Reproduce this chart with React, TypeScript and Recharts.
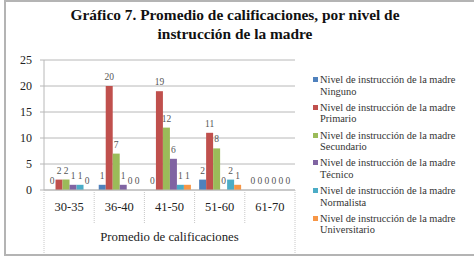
import React from 'react';
import { BarChart, Bar, XAxis, YAxis, CartesianGrid, LabelList, Rectangle } from 'recharts';

const categories = ['30-35', '36-40', '41-50', '51-60', '61-70'];
const ninguno = [0, 1, 0, 2, 0];
const primario = [2, 20, 19, 11, 0];
const secundario = [2, 7, 12, 8, 0];
const tecnico = [1, 1, 6, 0, 0];
const normalista = [1, 0, 1, 2, 0];
const universitario = [0, 0, 1, 1, 0];
const yTicks = [0, 5, 10, 15, 20, 25];

const series = [
  { key: 'ninguno', name: 'Ninguno', values: ninguno, color: '#4F81BD' },
  { key: 'primario', name: 'Primario', values: primario, color: '#C0504D' },
  { key: 'secundario', name: 'Secundario', values: secundario, color: '#9BBB59' },
  { key: 'tecnico', name: 'Técnico', values: tecnico, color: '#8064A2' },
  { key: 'normalista', name: 'Normalista', values: normalista, color: '#4BACC6' },
  { key: 'universitario', name: 'Universitario', values: universitario, color: '#F79646' },
];

const data = categories.map((cat, i) => {
  const row: Record<string, string | number> = { cat };
  series.forEach((s) => {
    row[s.key] = s.values[i];
  });
  return row;
});

const FONT = "'Liberation Serif', 'Times New Roman', 'DejaVu Serif', serif";

function TableTick(props: any) {
  const { x, y, payload, index, visibleTicksCount } = props;
  const half = payload && payload.offset ? payload.offset : 25;
  const top = y - 8;
  return (
    <g>
      <text x={x} y={top + 21} textAnchor="middle" fontFamily={FONT} fontSize={12.5} fill="#222">
        {payload.value}
      </text>
      {index < visibleTicksCount - 1 && (
        <line x1={x + half} x2={x + half} y1={top} y2={top + 33} stroke="#c8c8c8" strokeDasharray="1 1" />
      )}
      {index === 0 && (
        <line x1={x - half} x2={x - half} y1={top} y2={top + 63} stroke="#c8c8c8" strokeDasharray="1 1" />
      )}
      {index === visibleTicksCount - 1 && (
        <line x1={x + half} x2={x + half} y1={top} y2={top + 63} stroke="#c8c8c8" strokeDasharray="1 1" />
      )}
    </g>
  );
}

// zero-valued bars get a tiny min size so their labels still show; the rect itself is hidden
function BarShape(props: any) {
  const { payload, dataKey } = props;
  if (!payload || !payload[dataKey]) return null;
  return <Rectangle {...props} />;
}

function ValueLabel(props: any) {
  const { x, y, width, value } = props;
  return (
    <text
      x={Number(x) + Number(width) / 2}
      y={Number(y) - 6}
      textAnchor="middle"
      fontFamily={FONT}
      fontSize={9.5}
      fill="#555"
    >
      {value}
    </text>
  );
}

function LegendBox() {
  return (
    <div style={{ fontFamily: FONT, fontSize: 10.4, color: '#333', lineHeight: '11.5px' }}>
      {series.map((s) => (
        <div key={s.key} style={{ display: 'flex', alignItems: 'flex-start', height: 27.8 }}>
          <span
            style={{
              display: 'inline-block',
              flex: 'none',
              width: 5,
              height: 5,
              background: s.color,
              marginTop: 3,
              marginRight: 2,
            }}
          />
          <span style={{ whiteSpace: 'nowrap' }}>
            Nivel de instrucción de la madre
            <br />
            {s.name}
          </span>
        </div>
      ))}
    </div>
  );
}

export default function App() {
  return (
    <div style={{ position: 'absolute', left: 0, top: 0, width: 474, height: 264, background: '#fff' }}>
      <div
        style={{
          position: 'absolute',
          left: 4,
          top: 0,
          width: 470,
          height: 252,
          borderLeft: '2px solid #b4b4b4',
          borderTop: '2px solid #b4b4b4',
          borderBottom: '2px solid #b4b4b4',
        }}
      />
      <div
        style={{
          position: 'absolute',
          left: 0,
          top: 5,
          width: 474,
          textAlign: 'center',
          fontFamily: FONT,
          fontWeight: 'bold',
          fontSize: 15.4,
          lineHeight: '19px',
          color: '#111',
          paddingRight: 4,
          boxSizing: 'border-box',
        }}
      >
        Gráfico 7. Promedio de calificaciones, por nivel de
        <br />
        instrucción de la madre
      </div>
      <div
        style={{
          position: 'absolute',
          left: 44,
          top: 230,
          width: 251,
          textAlign: 'center',
          fontFamily: FONT,
          fontSize: 12.8,
          color: '#222',
        }}
      >
        Promedio de calificaciones
      </div>
      <div style={{ position: 'absolute', left: 313, top: 74, width: 160 }}>
        <LegendBox />
      </div>
      <div style={{ position: 'absolute', left: 0, top: 0 }}>
        <BarChart
          width={474}
          height={264}
          data={data}
          margin={{ top: 60, right: 179, bottom: 0, left: 14 }}
          barCategoryGap="9%"
          barGap={0}
        >
          <CartesianGrid vertical={false} stroke="#b8b8b8" />
          <YAxis
            width={30}
            domain={[0, 25]}
            ticks={yTicks}
            interval={0}
            tick={{ fontFamily: FONT, fontSize: 12, fill: '#222' }}
            tickSize={4}
            tickMargin={8}
            axisLine={{ stroke: '#b8b8b8' }}
            tickLine={{ stroke: '#b8b8b8' }}
          />
          <XAxis
            dataKey="cat"
            height={74}
            interval={0}
            tick={<TableTick />}
            tickLine={false}
            axisLine={{ stroke: '#b8b8b8' }}
          />
          {series.map((s) => (
            <Bar
              key={s.key}
              dataKey={s.key}
              name={s.name}
              fill={s.color}
              minPointSize={0.5}
              shape={<BarShape dataKey={s.key} />}
              isAnimationActive={false}
            >
              <LabelList dataKey={s.key} content={<ValueLabel />} />
            </Bar>
          ))}
        </BarChart>
      </div>
    </div>
  );
}
